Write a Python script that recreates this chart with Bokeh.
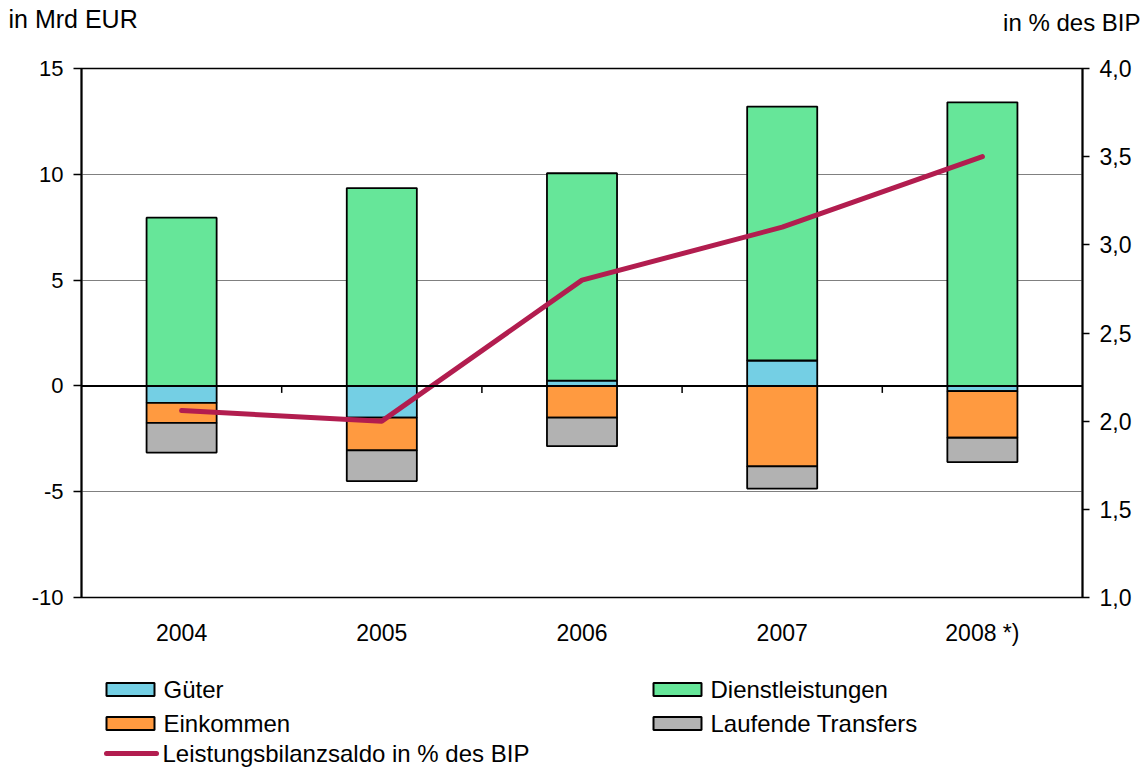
from bokeh.plotting import figure
from bokeh.layouts import column
from bokeh.models import (Range1d, LinearAxis, FixedTicker, CustomJSTickFormatter,
                          ColumnDataSource, Span)
from bokeh.core.properties import value
from bokeh.embed import file_html
from bokeh.resources import INLINE

# ---- data ----
years = ["2004", "2005", "2006", "2007", "2008 *)"]
gueter = [-0.8, -1.5, 0.25, 1.2, -0.25]
dienst = [7.95, 9.35, 9.8, 12.0, 13.4]
einkommen = [-0.95, -1.55, -1.5, -3.8, -2.2]
transfers = [-1.4, -1.45, -1.35, -1.05, -1.15]
saldo = [2.06, 2.0, 2.8, 3.1, 3.5]

series_names = ["Güter", "Dienstleistungen", "Einkommen", "Laufende Transfers"]
series_vals = [gueter, dienst, einkommen, transfers]
series_cols = ["#74CFE4", "#66E699", "#FF9A40", "#B2B2B2"]
line_col = "#B21D4F"
line_name = "Leistungsbilanzsaldo in % des BIP"
FONT = "Liberation Sans"
W = 1146

xs = [i + 0.5 for i in range(len(years))]

# ---------------- header with axis titles ----------------
hdr = figure(width=W, height=56, output_backend="svg", toolbar_location=None,
             x_range=Range1d(0, W), y_range=Range1d(56, 0),
             min_border=0, outline_line_color=None, frame_align=False)
hdr.axis.visible = False
hdr.grid.visible = False
hdr.text(x=[8], y=[18], text=["in Mrd EUR"], text_font=value(FONT), text_font_size="25px",
         text_baseline="middle", text_align="left", text_color="black")
hdr.text(x=[1140], y=[22], text=["in % des BIP"], text_font=value(FONT), text_font_size="24px",
         text_baseline="middle", text_align="right", text_color="black")

# ---------------- main chart ----------------
p = figure(width=W, height=604, output_backend="svg", toolbar_location=None,
           x_range=Range1d(0, len(years)), y_range=Range1d(-10, 15),
           min_border_left=81, min_border_right=64, min_border_top=12, min_border_bottom=63,
           frame_align=False)
p.outline_line_color = "black"
p.outline_line_width = 1.5

pos = [0.0] * len(years)
neg = [0.0] * len(years)
for name, vals, col in zip(series_names, series_vals, series_cols):
    bottoms, tops = [], []
    for i, v in enumerate(vals):
        if v >= 0:
            bottoms.append(pos[i]); tops.append(pos[i] + v); pos[i] += v
        else:
            bottoms.append(neg[i]); tops.append(neg[i] + v); neg[i] += v
    src = ColumnDataSource(dict(x=xs, bottom=bottoms, top=tops))
    p.vbar(x="x", width=0.35, bottom="bottom", top="top", source=src,
           fill_color=col, line_color="black", line_width=1.8)

p.add_layout(Span(location=0, dimension="width", line_color="black", line_width=2))
bounds = list(range(1, len(years)))
p.segment(x0=bounds, x1=bounds, y0=[0] * len(bounds), y1=[-0.33] * len(bounds),
          line_color="black", line_width=1.5)

p.extra_y_ranges = {"pct": Range1d(1, 4)}
p.line(xs, saldo, y_range_name="pct", line_color=line_col, line_width=5,
       line_cap="round", line_join="round")

yl = p.yaxis[0]
yl.ticker = FixedTicker(ticks=[-10, -5, 0, 5, 10, 15])
yl.formatter = CustomJSTickFormatter(code="return String(tick);")
yl.minor_tick_line_color = None
yl.major_tick_out = 8
yl.major_tick_in = 0
yl.major_tick_line_width = 1.5
yl.axis_line_width = 2
yl.major_label_standoff = 10
yl.major_label_text_font = FONT
yl.major_label_text_font_size = "22px"
yl.major_label_text_color = "black"

yr = LinearAxis(y_range_name="pct", ticker=FixedTicker(ticks=[1.0, 1.5, 2.0, 2.5, 3.0, 3.5, 4.0]),
                formatter=CustomJSTickFormatter(code="return tick.toFixed(1).replace('.', ',');"))
yr.minor_tick_line_color = None
yr.major_tick_out = 7
yr.major_tick_in = 0
yr.major_tick_line_width = 1.5
yr.axis_line_width = 2
yr.major_label_standoff = 10
yr.major_label_text_font = FONT
yr.major_label_text_font_size = "23px"
yr.major_label_text_color = "black"
p.add_layout(yr, "right")

xa = p.xaxis[0]
xa.ticker = FixedTicker(ticks=xs)
xa.major_label_overrides = {x: y for x, y in zip(xs, years)}
xa.axis_line_color = None
xa.major_tick_line_color = None
xa.minor_tick_line_color = None
xa.major_tick_out = 0
xa.major_tick_in = 0
xa.major_label_standoff = 22
xa.major_label_text_font = FONT
xa.major_label_text_font_size = "23px"
xa.major_label_text_color = "black"

p.xgrid.grid_line_color = None
p.ygrid.ticker = FixedTicker(ticks=[-5, 5, 10])
p.ygrid.grid_line_color = "#808080"
p.ygrid.grid_line_width = 1

# ---------------- legend ----------------
lg = figure(width=W, height=107, output_backend="svg", toolbar_location=None,
            x_range=Range1d(0, W), y_range=Range1d(767, 660),
            min_border=0, outline_line_color=None, frame_align=False)
lg.axis.visible = False
lg.grid.visible = False

box_items = [("Güter", series_cols[0], 106, 689), ("Einkommen", series_cols[2], 106, 723),
             ("Dienstleistungen", series_cols[1], 653, 689), ("Laufende Transfers", series_cols[3], 653, 723)]
for label, col, x0, yc in box_items:
    lg.quad(left=[x0], right=[x0 + 48], top=[yc - 6.5], bottom=[yc + 6.5],
            fill_color=col, line_color="black", line_width=2)
    lg.text(x=[x0 + 57], y=[yc], text=[label], text_font=value(FONT), text_font_size="24px",
            text_baseline="middle", text_align="left", text_color="black")
lg.line(x=[106, 156], y=[753, 753], line_color=line_col, line_width=5, line_cap="round")
lg.text(x=[162], y=[753], text=[line_name], text_font=value(FONT), text_font_size="24px",
        text_baseline="middle", text_align="left", text_color="black")

layout = column(hdr, p, lg, spacing=0)
open("out.html", "w").write(file_html(layout, INLINE))
